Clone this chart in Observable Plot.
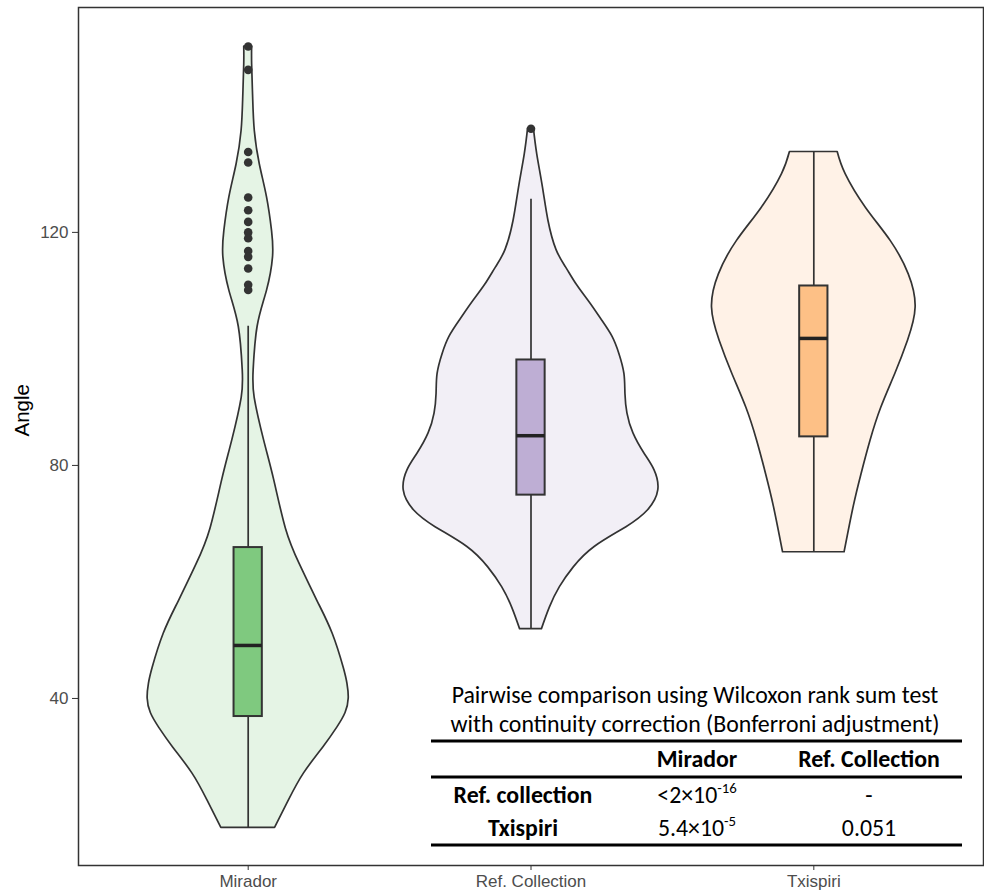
<!DOCTYPE html>
<html><head><meta charset="utf-8">
<script src="https://cdn.jsdelivr.net/npm/d3@7"></script>
<script src="https://cdn.jsdelivr.net/npm/@observablehq/plot@0.6"></script>
<style>body{margin:0;background:#fff}#chart svg{display:block}</style>
</head><body><div id="chart"></div>
<script>
// ---------- data ----------
const groups = ["Mirador", "Ref. Collection", "Txispiri"];
const boxFill = ["#7FC97F", "#BEAED4", "#FDC086"];

// violin outlines: [angle, relative density]
const miradorViolin = [[17.8,.211],[22.5,.32],[27.1,.4375],[31.6,.59],[35,.70],[37.5,.765],[40,.79],[42.5,.78],[45.3,.75],[51.1,.664],[56.6,.547],[63,.406],[69.1,.297],[77.6,.203],[84.3,.125],[91.6,.051],[96.4,.043],[103.8,.074],[110,.148],[115.7,.195],[120.2,.1875],[126,.148],[131.7,.091],[137.4,.052],[143.1,.039],[148.8,.031],[151.9,.031]];
const refViolin = [[51.9,.086],[55.6,.148],[59.1,.227],[62.5,.336],[66,.5],[69.4,.75],[72.3,.92],[75.7,1.0],[79.2,.97],[82.1,.89],[85.5,.805],[88.9,.758],[92.3,.742],[95.7,.734],[99.1,.695],[102.1,.64],[105,.555],[108,.46],[111,.36],[114,.275],[117,.2],[122,.137],[127.7,.094],[133.4,.049],[137.8,.023]];
const txispiriViolin = [[65.1,.242],[72.8,.3125],[78.5,.375],[84.2,.445],[89.9,.53],[95.7,.64],[101.4,.74],[107.1,.80],[112.8,.746],[118.5,.605],[124.2,.41],[130,.25],[133.8,.1875]];

// boxplot statistics
const whiskerLow  = [17.8, 51.9, 65.1];
const q1          = [36.9, 74.9, 84.9];
const median      = [49.1, 85.1, 101.8];
const q3          = [65.9, 98.1, 110.8];
const whiskerHigh = [103.9, 125.7, 133.8];

// outliers
const miradorOutliers = [151.9,147.9,133.8,132.0,126.0,123.8,121.8,120.0,119.0,116.8,115.8,113.8,111.0,110.1];
const refOutliers = [137.8];
const txispiriOutliers = [];

const yTicks = [40, 80, 120];

// table
const tableTitle = ["Pairwise comparison using Wilcoxon rank sum test", "with continuity correction (Bonferroni adjustment)"];
const tableColumns = ["Mirador", "Ref. Collection"];
const tableRows = ["Ref. collection", "Txispiri"];
const tableMantissa = [["<2×10", "-"], ["5.4×10", "0.051"]];
const tableExponent = [["-16", null], ["-5", null]];

// ---------- build ----------
const violins = [miradorViolin, refViolin, txispiriViolin];
const outliers = [miradorOutliers, refOutliers, txispiriOutliers];
const violinRows = violins.flatMap((v, i) => v.map(([angle, w]) => ({group: groups[i], pos: i + 1, angle, w})));
const boxRows = groups.map((g, i) => ({group: g, pos: i + 1, lo: whiskerLow[i], q1: q1[i], med: median[i], q3: q3[i], hi: whiskerHigh[i]}));
const outlierRows = outliers.flatMap((o, i) => o.map(a => ({group: groups[i], pos: i + 1, angle: a})));

const HALF = 0.45, BOX = 0.05;
const ink = "#333333";

const plot = Plot.plot({
  width: 984, height: 893,
  marginLeft: 78, marginRight: 1, marginTop: 7, marginBottom: 28,
  style: {fontFamily: "'Liberation Sans', Arial, sans-serif", color: ink, background: "#fff"},
  x: {type: "linear", domain: [0.4, 3.6]},
  y: {domain: [11.33, 158.6]},
  color: {domain: groups, range: boxFill},
  marks: [
    Plot.areaX(violinRows, {y: "angle", x1: d => d.pos - d.w * HALF, x2: d => d.pos + d.w * HALF, z: "group",
      fill: "group", fillOpacity: 0.2, stroke: ink, strokeWidth: 1.7, curve: "natural"}),
    Plot.ruleX(boxRows, {x: "pos", y1: "lo", y2: "hi", stroke: ink, strokeWidth: 1.7}),
    Plot.rect(boxRows, {x1: d => d.pos - BOX, x2: d => d.pos + BOX, y1: "q1", y2: "q3", fill: "group", stroke: ink, strokeWidth: 2}),
    Plot.ruleY(boxRows, {y: "med", x1: d => d.pos - BOX, x2: d => d.pos + BOX, stroke: "#222", strokeWidth: 3.5}),
    Plot.dot(outlierRows, {x: "pos", y: "angle", r: 4.3, fill: ink, stroke: "none"}),
    Plot.frame({stroke: ink, strokeWidth: 1.5}),
    Plot.axisY({ticks: yTicks, tickSize: 6, tickPadding: 4, fontSize: 17, label: null}),
    Plot.axisX({ticks: [1, 2, 3], tickFormat: d => groups[d - 1], tickSize: 5, tickPadding: 4, fontSize: 17, label: null}),
    Plot.text(["Angle"], {frameAnchor: "left", dx: -56, rotate: -90, fontSize: 20.5, fill: "#000", text: d => d})
  ]
});
document.getElementById("chart").appendChild(plot);

const svg = d3.select(plot);
svg.selectAll('[aria-label="y-axis tick label"] text, [aria-label="x-axis tick label"] text').attr("fill", "#4D4D4D");

// table annotation
const t = svg.append("g").attr("font-family", "Carlito, Calibri, Lato, sans-serif").attr("fill", "#000");
const cx = 695;
const l1 = t.append("text").attr("x", cx).attr("y", 703).attr("text-anchor", "middle").attr("font-size", 21).text(tableTitle[0]);
const w = l1.node().getComputedTextLength();
const fs = 21 * 487 / w;
l1.attr("font-size", fs);
t.append("text").attr("x", cx).attr("y", 732).attr("text-anchor", "middle").attr("font-size", fs).text(tableTitle[1]);
const lineX1 = 431, lineX2 = 962;
[741, 777, 845].forEach(y => t.append("line").attr("x1", lineX1).attr("x2", lineX2).attr("y1", y).attr("y2", y).attr("stroke", "#000").attr("stroke-width", 3));
const colX = [523, 697, 869];
tableColumns.forEach((c, j) => t.append("text").attr("x", colX[j + 1]).attr("y", 767).attr("text-anchor", "middle").attr("font-size", fs).attr("font-weight", "bold").text(c));
const rowY = [803, 836];
tableRows.forEach((r, i) => {
  t.append("text").attr("x", colX[0]).attr("y", rowY[i]).attr("text-anchor", "middle").attr("font-size", fs).attr("font-weight", "bold").text(r);
  tableMantissa[i].forEach((m, j) => {
    const tx = t.append("text").attr("x", colX[j + 1]).attr("y", rowY[i]).attr("text-anchor", "middle").attr("font-size", fs);
    tx.append("tspan").text(m);
    if (tableExponent[i][j]) tx.append("tspan").attr("font-size", fs * 0.62).attr("dy", -fs * 0.42).text(tableExponent[i][j]);
  });
});
</script></body></html>
